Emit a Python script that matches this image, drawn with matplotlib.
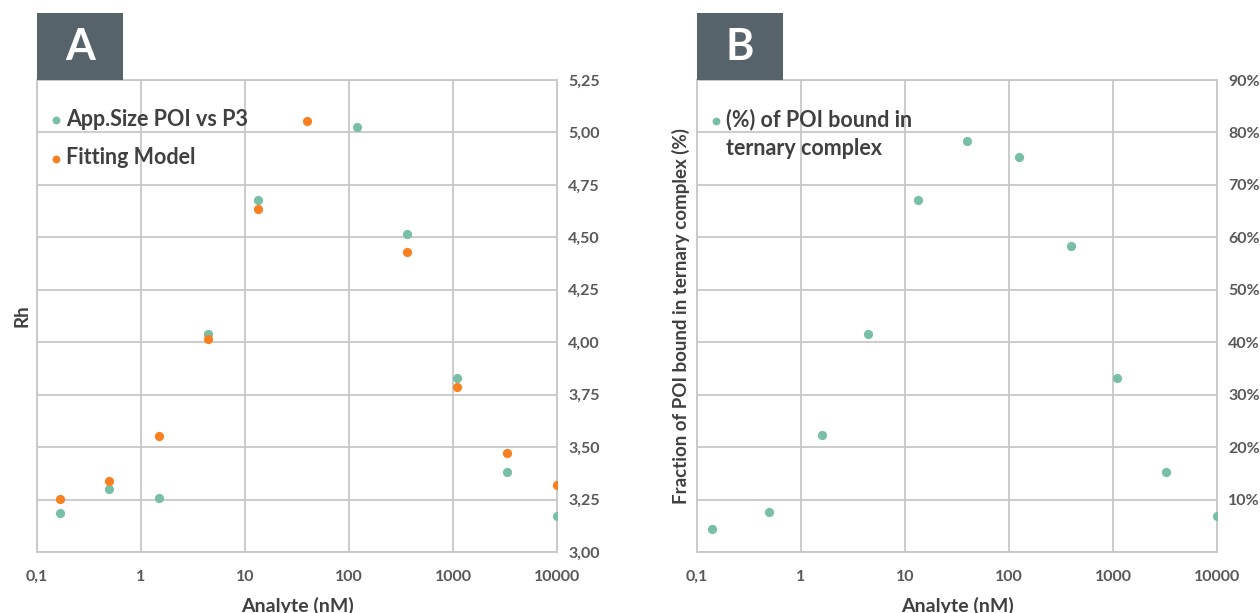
import matplotlib
matplotlib.use("Agg")
import matplotlib.pyplot as plt
from matplotlib.patches import Rectangle
from matplotlib.ticker import FixedLocator, FixedFormatter

plt.rcParams['font.family'] = ['Lato', 'DejaVu Sans']

# Panel A data
conc_app = [0.166, 0.49, 1.5, 4.4, 13.2, 120, 360, 1090, 3300, 10000]
rh_app = [3.187, 3.302, 3.259, 4.039, 4.680, 5.025, 4.514, 3.830, 3.382, 3.170]
conc_fit = [0.166, 0.49, 1.5, 4.4, 13.2, 39.5, 360, 1090, 3300, 10000]
rh_fit = [3.253, 3.340, 3.555, 4.016, 4.634, 5.054, 4.430, 3.788, 3.472, 3.321]

# Panel B data
conc_b = [0.14, 0.49, 1.58, 4.4, 13.2, 39.5, 125, 391, 1086, 3266, 10000]
frac_b = [4.3, 7.7, 22.3, 41.5, 67.2, 78.3, 75.25, 58.3, 33.2, 15.3, 6.8]

x_ticks = [0.1, 1, 10, 100, 1000, 10000]
x_labels = ["0,1", "1", "10", "100", "1000", "10000"]
a_yticks = [3.00, 3.25, 3.50, 3.75, 4.00, 4.25, 4.50, 4.75, 5.00, 5.25]
a_ylabels = ["3,00", "3,25", "3,50", "3,75", "4,00", "4,25", "4,50", "4,75", "5,00", "5,25"]
b_yticks = [0, 10, 20, 30, 40, 50, 60, 70, 80, 90]
b_ylabels = ["", "10%", "20%", "30%", "40%", "50%", "60%", "70%", "80%", "90%"]

TEAL = "#78BEA8"
ORANGE = "#F98020"
GRID = "#C8C8C8"
TICK = "#595959"
LABEL = "#404040"
BOX = "#57636B"

fig = plt.figure(figsize=(12.6, 6.13), dpi=100)

W, H = 1260, 613
def rect(l, t, r, b):
    return [l / W, 1 - b / H, (r - l) / W, (b - t) / H]

axA = fig.add_axes(rect(37, 80, 557, 552))
axB = fig.add_axes(rect(697, 80, 1217, 552))

def style(ax, yt, yl, ylim):
    ax.set_xscale('log')
    ax.set_xlim(0.1, 10000)
    ax.set_ylim(*ylim)
    ax.xaxis.set_major_locator(FixedLocator(x_ticks))
    ax.xaxis.set_major_formatter(FixedFormatter(x_labels))
    ax.xaxis.set_minor_locator(FixedLocator([]))
    ax.yaxis.set_major_locator(FixedLocator(yt))
    ax.yaxis.set_major_formatter(FixedFormatter(yl))
    ax.yaxis.tick_right()
    ax.tick_params(axis='both', length=0, labelsize=11.5, labelcolor=TICK)
    ax.tick_params(axis='x', pad=13)
    ax.tick_params(axis='y', pad=8)
    for lab in ax.get_xticklabels() + ax.get_yticklabels():
        lab.set_fontweight('bold')
    ax.grid(True, color=GRID, linewidth=1.3)
    ax.set_axisbelow(True)
    for s in ax.spines.values():
        s.set_color(GRID)
        s.set_linewidth(1.3)
    ax.set_xlabel("Analyte (nM)", fontsize=14, fontweight='bold', color=LABEL, labelpad=9)

style(axA, a_yticks, a_ylabels, (3.0, 5.25))
style(axB, b_yticks, b_ylabels, (0, 90))

axA.scatter(conc_app, rh_app, s=44, color=TEAL, label="App.Size POI vs P3", zorder=3, linewidths=0)
axA.scatter(conc_fit, rh_fit, s=44, color=ORANGE, label="Fitting Model", zorder=3, linewidths=0)
axA.set_ylabel("Rh", fontsize=13.5, fontweight='bold', color=LABEL, labelpad=5)

axB.scatter(conc_b, frac_b, s=44, color=TEAL, label="(%) of POI bound in", zorder=3, linewidths=0)
axB.set_ylabel("Fraction of POI bound in ternary complex (%)", fontsize=13.5,
               fontweight='bold', color=LABEL, labelpad=5)

leg_kw = dict(loc='upper left', bbox_to_anchor=(0.024, 0.9396), frameon=False,
              handletextpad=0.17, handlelength=0.6, labelspacing=0.82, markerscale=0.85,
              prop={'size': 15.5, 'weight': 'bold'}, borderpad=0, borderaxespad=0)
legA = axA.legend(**leg_kw)
for t in legA.get_texts():
    t.set_color(LABEL)
legB = axB.legend(**leg_kw)
for t in legB.get_texts():
    t.set_color(LABEL)

# second line of panel B legend label, aligned with first line
fig.canvas.draw()
bb = legB.get_texts()[0].get_window_extent()
x0, y0 = fig.transFigure.inverted().transform((bb.x0, (bb.y0 + bb.y1) / 2 - 29))
fig.text(x0, y0, "ternary complex", fontsize=15.5, fontweight='bold', color=LABEL,
         ha='left', va='center')

# Panel title boxes
for l, letter in ((37, "A"), (697, "B")):
    r = rect(l, 13, l + 86, 80)
    fig.patches.append(Rectangle((r[0], r[1]), r[2], r[3], transform=fig.transFigure,
                                 facecolor=BOX, edgecolor='none'))
    fig.text(r[0] + r[2] / 2, r[1] + r[3] / 2, letter, color='white', fontsize=31,
             fontweight='bold', ha='center', va='center')

fig.savefig("out.png", dpi=100, facecolor='white')
